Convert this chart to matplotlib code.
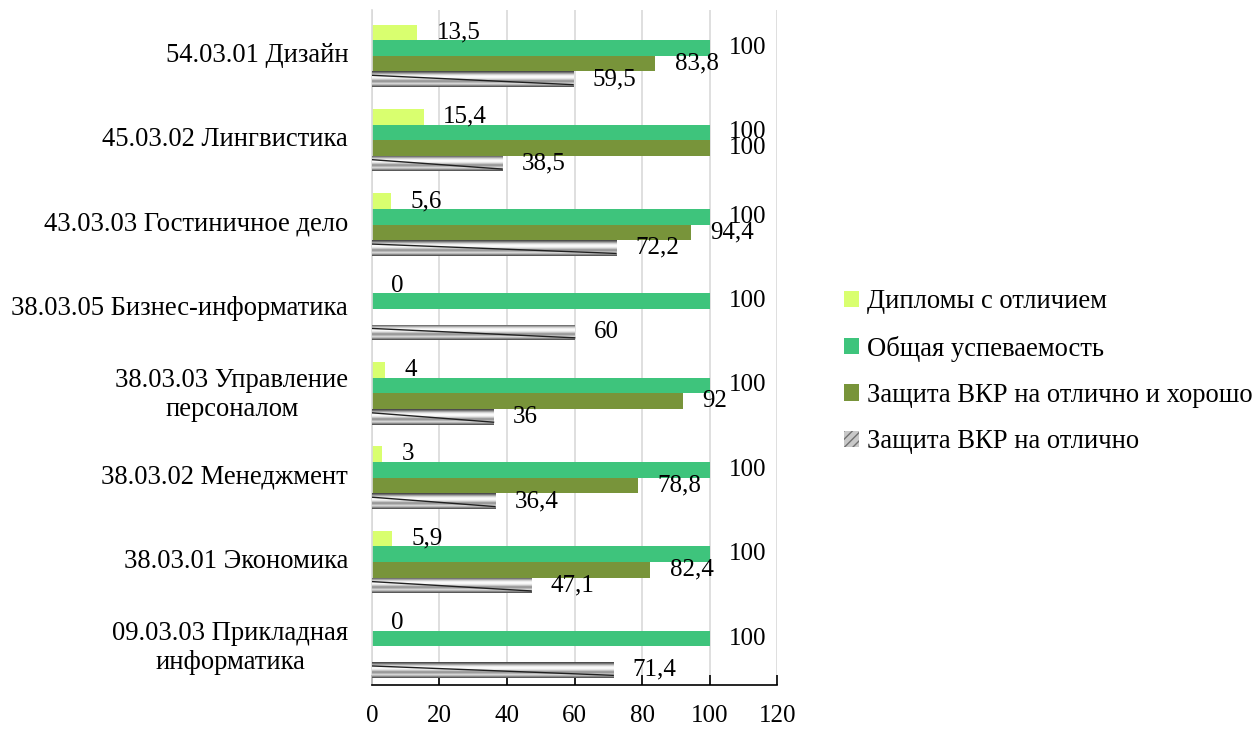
import matplotlib.pyplot as plt
import numpy as np

plt.rcParams['font.family'] = ['Liberation Serif', 'DejaVu Serif']

categories = ["54.03.01 Дизайн", "45.03.02 Лингвистика", "43.03.03 Гостиничное дело",
              "38.03.05 Бизнес-информатика", "38.03.03 Управление\nперсоналом",
              "38.03.02 Менеджмент", "38.03.01 Экономика", "09.03.03 Прикладная\nинформатика"]
series_names = ["Дипломы с отличием", "Общая успеваемость",
                "Защита ВКР на отлично и хорошо", "Защита ВКР на отлично"]
diplomas = [13.5, 15.4, 5.6, 0, 4, 3, 5.9, 0]
overall = [100, 100, 100, 100, 100, 100, 100, 100]
good = [83.8, 100, 94.4, np.nan, 92, 78.8, 82.4, np.nan]
excellent = [59.5, 38.5, 72.2, 60, 36, 36.4, 47.1, 71.4]
xticks = [0, 20, 40, 60, 80, 100, 120]

data = [diplomas, overall, good, excellent]
colors = ['#d9ff6f', '#3ec47c', '#78943a', '#c8c8c8']

fig = plt.figure(figsize=(12.52, 7.29), dpi=100)
ax = fig.add_axes([0.297, 0.06, 0.324, 0.926])

y = np.arange(len(categories))
h = 0.185
# metallic look for the last series
grad = np.array([0.3, 0.55, 0.8, 0.95, 1.0, 0.92, 0.75, 0.55, 0.7, 0.85, 0.65, 0.35])
grad = np.tile(grad[:, None], (1, 50))

for i, (vals, col, name) in enumerate(zip(data, colors, series_names)):
    pos = y + (i - 1.5) * h + 0.04
    vals = np.array(vals, dtype=float)
    if i == 3:
        bars = ax.barh(pos, vals, height=h, color=col, hatch='////',
                       edgecolor='#707070', linewidth=0, label=name, zorder=2)
        for b in bars:
            x0, y0 = b.get_x(), b.get_y()
            im = ax.imshow(grad, cmap='gray', vmin=0, vmax=1, aspect='auto',
                           extent=[x0, x0 + b.get_width(), y0 + b.get_height(), y0],
                           zorder=3, interpolation='bilinear')
            im.set_clip_path(b)
            ax.plot([x0, x0 + b.get_width()],
                    [y0 + b.get_height() * 0.25, y0 + b.get_height() * 0.85],
                    color='#202020', lw=1.0, zorder=4, clip_path=b)
    else:
        ax.barh(pos, vals, height=h, color=col, label=name, zorder=2)
    for p, v in zip(pos, vals):
        if np.isnan(v):
            continue
        lbl = f"{v:g}".replace('.', ',')
        ax.annotate(lbl, (v, p), xytext=(14, 0), textcoords='offset points',
                    ha='left', va='center', fontsize=18, zorder=5)

ax.set_ylim(len(categories) - 0.5, -0.5)
ax.set_xlim(0, 120)
ax.set_xticks(xticks)
ax.set_yticks(y)
ax.set_yticklabels(categories, fontsize=19.2, multialignment='center')
ax.tick_params(axis='y', length=0, pad=17)
ax.tick_params(axis='x', direction='in', length=7, width=1.2, labelsize=18, pad=14)
ax.grid(axis='x', color='#d9d9d9', lw=1.2, zorder=0)
for s in ['top', 'right']:
    ax.spines[s].set_visible(False)
ax.spines['left'].set_color('#d9d9d9')
ax.spines['left'].set_linewidth(1.2)
ax.spines['bottom'].set_linewidth(1.2)

fig.legend(loc='center left', bbox_to_anchor=(0.655, 0.49), frameon=False,
           fontsize=19.2, handlelength=0.55, handleheight=0.55, handletextpad=0.3,
           labelspacing=0.8)

fig.savefig('out.png', dpi=100)
